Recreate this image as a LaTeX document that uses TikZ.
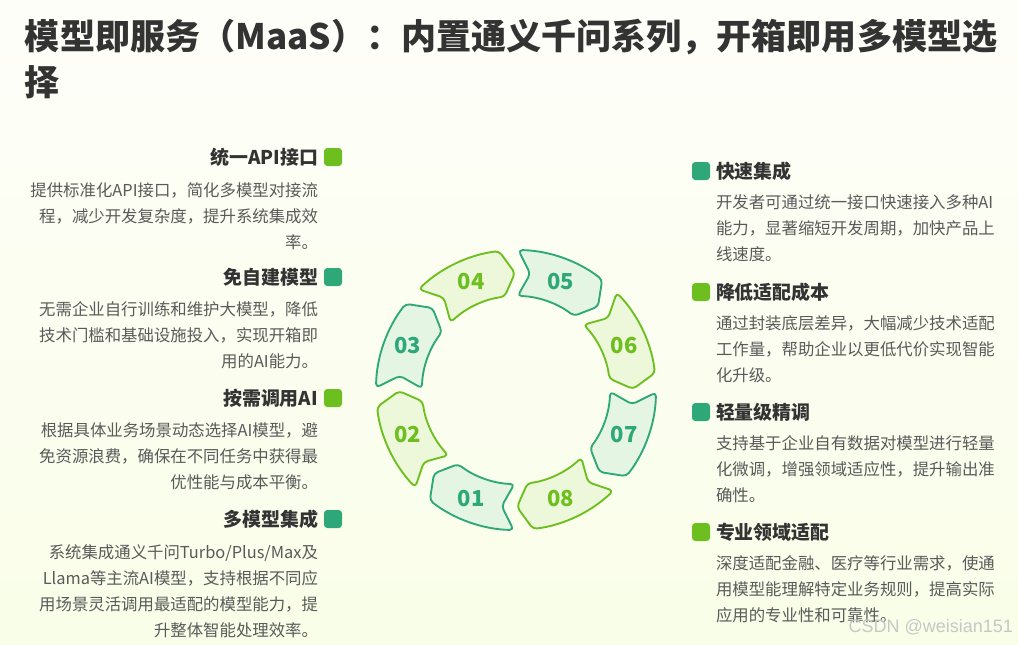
\documentclass[tikz,border=0pt]{standalone}
\usepackage{fontspec}
\setmainfont{Noto Sans CJK SC}
\newfontfamily\wmfont{Liberation Sans}
\usetikzlibrary{positioning, calc}
\definecolor{limegrn}{HTML}{6DBF1F}
\definecolor{tealgrn}{HTML}{2EA878}
\definecolor{limefill}{HTML}{EDF7D9}
\definecolor{tealfill}{HTML}{E4F5E4}
\definecolor{headgray}{HTML}{333333}
\definecolor{bodygray}{HTML}{5A5A5A}
\definecolor{bgtop}{HTML}{FEFEF9}
\definecolor{bgbot}{HTML}{F9FEE8}

\begin{document}
\begin{tikzpicture}[
    x=0.75pt, y=0.75pt,
    every node/.style={inner sep=0pt, outer sep=0pt},
    title/.style={font=\fontsize{26.3}{34.5}\selectfont\bfseries, text=headgray, align=left},
    headl/.style={font=\fontsize{14.2}{18}\selectfont\bfseries, text=headgray},
    descl/.style={font=\fontsize{12.3}{19.5}\selectfont, text=bodygray, align=right},
    descr/.style={font=\fontsize{12.3}{19.5}\selectfont, text=bodygray, align=left},
    dot/.style={rectangle, rounded corners=2.5pt, minimum size=13.5pt},
    num/.style={font=\fontsize{16.5}{18}\selectfont\bfseries},
    seg/.pic={
      \path[pic actions, line width=1.4pt, rounded corners=3pt, line join=round]
        (21.5:140) arc[start angle=21.5, end angle=-15.5, radius=140]
        -- (-22:117) -- (-15.5:94)
        arc[start angle=-15.5, end angle=21.5, radius=94]
        -- (15.5:117) -- cycle;
    },
    oddseg/.style={draw=tealgrn, fill=tealfill},
    evenseg/.style={draw=limegrn, fill=limefill},
  ]

  \useasboundingbox (0,0) rectangle (1018,-644);
  \shade[top color=bgtop, bottom color=bgbot] (0,0) rectangle (1018,-644);

  \node[title, anchor=north west] (ttl) at (25,-19)
    {模型即服务（MaaS）：内置通义千问系列，开箱即用多模型选\\择};

  % ring of eight arrows
  \coordinate (ctr) at (516,-390);
  \pic[oddseg, rotate=247.5]  (s1) at (ctr) {seg};
  \pic[evenseg, rotate=202.5] (s2) at (ctr) {seg};
  \pic[oddseg, rotate=157.5]  (s3) at (ctr) {seg};
  \pic[evenseg, rotate=112.5] (s4) at (ctr) {seg};
  \pic[oddseg, rotate=67.5]   (s5) at (ctr) {seg};
  \pic[evenseg, rotate=22.5]  (s6) at (ctr) {seg};
  \pic[oddseg, rotate=-22.5]  (s7) at (ctr) {seg};
  \pic[evenseg, rotate=-67.5] (s8) at (ctr) {seg};

  \node[num, text=tealgrn] (n1) at ($(ctr)+(247.5:117)$) {01};
  \node[num, text=limegrn] (n2) at ($(ctr)+(202.5:117)$) {02};
  \node[num, text=tealgrn] (n3) at ($(ctr)+(157.5:117)$) {03};
  \node[num, text=limegrn] (n4) at ($(ctr)+(112.5:117)$) {04};
  \node[num, text=tealgrn] (n5) at ($(ctr)+(67.5:117)$) {05};
  \node[num, text=limegrn] (n6) at ($(ctr)+(22.5:117)$) {06};
  \node[num, text=tealgrn] (n7) at ($(ctr)+(-22.5:117)$) {07};
  \node[num, text=limegrn] (n8) at ($(ctr)+(-67.5:117)$) {08};

  % left column
  \node[headl, anchor=east] (h1) at (318,-157) {统一API接口};
  \node[dot, fill=limegrn, right=4.5pt of h1] (b1) {};
  \node[descl, below left=12pt and 0pt of h1.south east] (d1)
    {提供标准化API接口，简化多模型对接流\\程，减少开发复杂度，提升系统集成效\\率。};

  \node[headl, anchor=east] (h2) at (318,-277) {免自建模型};
  \node[dot, fill=tealgrn, right=4.5pt of h2] (b2) {};
  \node[descl, below left=12pt and 0pt of h2.south east] (d2)
    {无需企业自行训练和维护大模型，降低\\技术门槛和基础设施投入，实现开箱即\\用的AI能力。};

  \node[headl, anchor=east] (h3) at (318,-398) {按需调用AI};
  \node[dot, fill=limegrn, right=4.5pt of h3] (b3) {};
  \node[descl, below left=12pt and 0pt of h3.south east] (d3)
    {根据具体业务场景动态选择AI模型，避\\免资源浪费，确保在不同任务中获得最\\优性能与成本平衡。};

  \node[headl, anchor=east] (h4) at (318,-519) {多模型集成};
  \node[dot, fill=tealgrn, right=4.5pt of h4] (b4) {};
  \node[descl, below left=12pt and 0pt of h4.south east] (d4)
    {系统集成通义千问Turbo/Plus/Max及\\Llama等主流AI模型，支持根据不同应\\用场景灵活调用最适配的模型能力，提\\升整体智能处理效率。};

  % right column
  \node[headl, anchor=west] (h5) at (716,-171) {快速集成};
  \node[dot, fill=tealgrn, left=4.5pt of h5] (b5) {};
  \node[descr, below right=11pt and 0pt of h5.south west] (d5)
    {开发者可通过统一接口快速接入多种AI\\能力，显著缩短开发周期，加快产品上\\线速度。};

  \node[headl, anchor=west] (h6) at (716,-292) {降低适配成本};
  \node[dot, fill=limegrn, left=4.5pt of h6] (b6) {};
  \node[descr, below right=11pt and 0pt of h6.south west] (d6)
    {通过封装底层差异，大幅减少技术适配\\工作量，帮助企业以更低代价实现智能\\化升级。};

  \node[headl, anchor=west] (h7) at (716,-412) {轻量级精调};
  \node[dot, fill=tealgrn, left=4.5pt of h7] (b7) {};
  \node[descr, below right=11pt and 0pt of h7.south west] (d7)
    {支持基于企业自有数据对模型进行轻量\\化微调，增强领域适应性，提升输出准\\确性。};

  \node[headl, anchor=west] (h8) at (716,-532) {专业领域适配};
  \node[dot, fill=limegrn, left=4.5pt of h8] (b8) {};
  \node[descr, below right=11pt and 0pt of h8.south west] (d8)
    {深度适配金融、医疗等行业需求，使通\\用模型能理解特定业务规则，提高实际\\应用的专业性和可靠性。};

  \node[font=\wmfont\fontsize{13.5}{16}\selectfont, text=black!22, anchor=east]
    (wm) at (1013,-627) {CSDN @weisian151};

\end{tikzpicture}
\end{document}
